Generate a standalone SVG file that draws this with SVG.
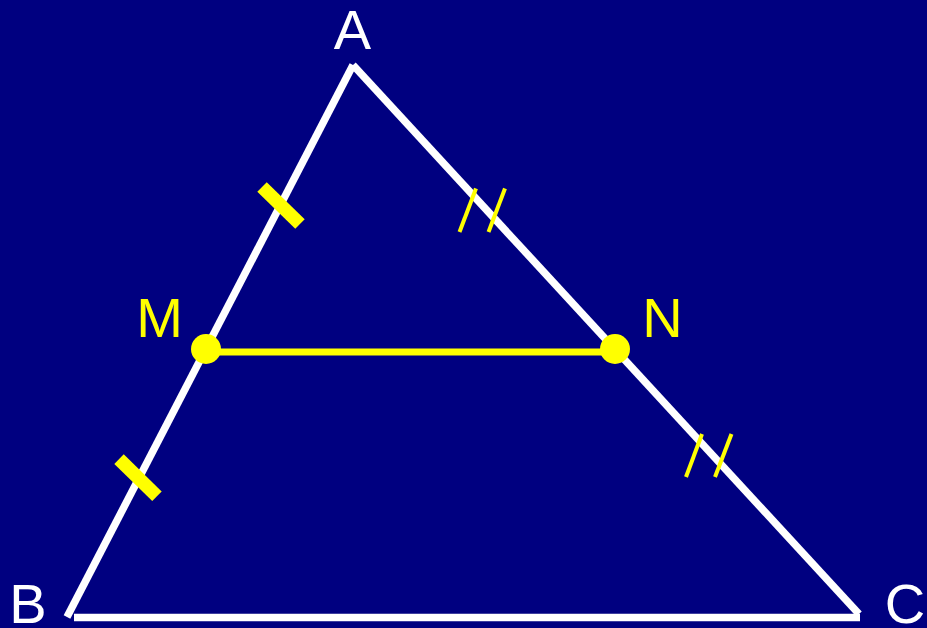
<svg xmlns="http://www.w3.org/2000/svg" width="927" height="628" viewBox="0 0 927 628">
<style>
.side{stroke:#FFFFFF;stroke-width:7.5;stroke-linecap:butt;fill:none}
.mid{stroke:#FFFF00;stroke-width:7;fill:none}
.hatch{stroke:#FFFF00;stroke-width:4;fill:none}
.tick{fill:#FFFF00}
.dot{fill:#FFFF00}
.lblW{font-family:"Liberation Sans",Arial,sans-serif;font-size:56px;fill:#FFFFFF;text-anchor:middle}
.lblY{font-family:"Liberation Sans",Arial,sans-serif;font-size:56px;fill:#FFFF00;text-anchor:middle}
</style>
<rect x="0" y="0" width="927" height="628" fill="#000080"/>
<g id="connectors">
<line id="AB" class="side" x1="353" y1="65" x2="67" y2="617"/>
<line id="AC" class="side" x1="353" y1="65" x2="859" y2="614"/>
<line id="BC" class="side" x1="74" y1="617.5" x2="860" y2="617.5"/>
<line id="MN" class="mid" x1="206" y1="352" x2="615" y2="352"/>
<rect class="tick" x="-26.5" y="-6.75" width="53" height="13.5" transform="translate(281,205.5) rotate(44.3)"/>
<rect class="tick" x="-26.5" y="-6.75" width="53" height="13.5" transform="translate(138,477.7) rotate(44.3)"/>
<line class="hatch" x1="459.5" y1="232" x2="476" y2="188.5"/>
<line class="hatch" x1="488.5" y1="232" x2="505" y2="188.5"/>
<line class="hatch" x1="686" y1="477" x2="702" y2="434"/>
<line class="hatch" x1="715" y1="477" x2="731.5" y2="434"/>
</g>
<g id="A"><text class="lblW" x="352.5" y="49">A</text></g>
<g id="B"><text class="lblW" x="28" y="623">B</text></g>
<g id="C"><text class="lblW" x="905" y="623">C</text></g>
<g id="M"><circle class="dot" cx="206" cy="349" r="15"/><text class="lblY" x="159.5" y="337">M</text></g>
<g id="N"><circle class="dot" cx="615" cy="349" r="15"/><text class="lblY" x="662.5" y="337">N</text></g>
</svg>
